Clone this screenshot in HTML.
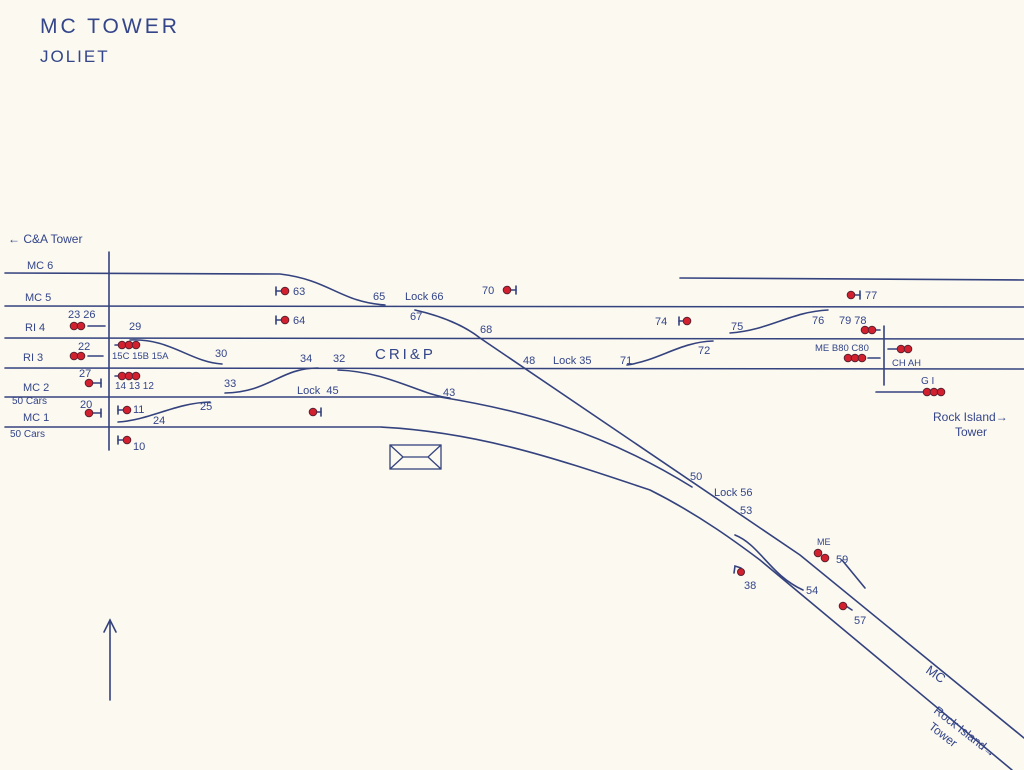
<!DOCTYPE html>
<html><head><meta charset="utf-8"><style>
html,body{margin:0;padding:0;background:#fbf9f0;}
svg{display:block}
text{font-family:"Liberation Sans",sans-serif;fill:#34458a}
</style></head><body>
<svg width="1024" height="770" viewBox="0 0 1024 770" xmlns="http://www.w3.org/2000/svg">
<rect width="1024" height="770" fill="#fbf9f0"/>
<g stroke="#34427e" stroke-width="1.6" fill="none" stroke-linecap="round">
<path d="M5 273 L280 274 C330 280 340 302 385 305"/>
<line x1="680" y1="278" x2="1024" y2="280"/>
<line x1="5" y1="306" x2="1024" y2="307"/>
<line x1="5" y1="338" x2="1024" y2="339"/>
<line x1="5" y1="368" x2="1024" y2="369"/>
<path d="M5 397 L440 397 C520 410 600 430 692 487"/>
<path d="M5 427 L380 427 C480 432 560 460 650 490 C700 515 740 545 760 560 L1012 770"/>
<path d="M415 310 C450 318 470 330 480 338 L800 555 L1024 738"/>
<path d="M130 340 C170 338 190 362 222 364"/>
<path d="M225 393 C270 392 280 368 318 368"/>
<path d="M338 370 C390 372 420 395 450 398"/>
<path d="M118 422 C150 420 175 403 210 402"/>
<path d="M627 365 C660 360 680 342 713 341"/>
<path d="M730 333 C770 330 790 312 828 310"/>
<path d="M735 535 C760 545 770 575 803 590"/>
<line x1="842" y1="560" x2="865" y2="588"/>
<line x1="109" y1="252" x2="109" y2="450"/>
<line x1="884" y1="326" x2="884" y2="385"/>
<line x1="876" y1="392" x2="930" y2="392"/>
<line x1="110" y1="700" x2="110" y2="620"/>
<path d="M104 632 L110 620 L116 632"/>
<line x1="130" y1="345" x2="115" y2="345"/><line x1="130" y1="376" x2="115" y2="376"/>
<line x1="88" y1="326" x2="105" y2="326"/><line x1="88" y1="356" x2="103" y2="356"/>
<line x1="93" y1="383" x2="101" y2="383"/><line x1="101" y1="379" x2="101" y2="387"/>
<line x1="93" y1="413" x2="101" y2="413"/><line x1="101" y1="409" x2="101" y2="417"/>
<line x1="118" y1="410" x2="126" y2="410"/><line x1="118" y1="406" x2="118" y2="414"/>
<line x1="118" y1="440" x2="126" y2="440"/><line x1="118" y1="436" x2="118" y2="444"/>
<line x1="276" y1="291" x2="284" y2="291"/><line x1="276" y1="287" x2="276" y2="295"/>
<line x1="276" y1="320" x2="284" y2="320"/><line x1="276" y1="316" x2="276" y2="324"/>
<line x1="313" y1="412" x2="321" y2="412"/><line x1="321" y1="408" x2="321" y2="416"/>
<line x1="508" y1="290" x2="516" y2="290"/><line x1="516" y1="286" x2="516" y2="294"/>
<line x1="679" y1="321" x2="686" y2="321"/><line x1="679" y1="317" x2="679" y2="325"/>
<line x1="852" y1="295" x2="860" y2="295"/><line x1="860" y1="291" x2="860" y2="299"/>
<line x1="873" y1="330" x2="880" y2="330"/><line x1="868" y1="358" x2="880" y2="358"/>
<line x1="888" y1="349" x2="898" y2="349"/>
<path d="M741 568 L735 566 L734 573"/>
<line x1="846" y1="606" x2="852" y2="610"/>
</g>
<g stroke="#34427e" stroke-width="1.3" fill="none">
<rect x="390" y="445" width="51" height="24"/>
<path d="M390 445 L403 457 L428 457 L441 445 M390 469 L403 457 M428 457 L441 469"/>
</g>
<g fill="#d3202e" stroke="#5a2030" stroke-width="1">
<circle cx="74" cy="326" r="3.8"/><circle cx="81" cy="326" r="3.8"/>
<circle cx="74" cy="356" r="3.8"/><circle cx="81" cy="356" r="3.8"/>
<circle cx="89" cy="383" r="3.8"/><circle cx="89" cy="413" r="3.8"/>
<circle cx="122" cy="345" r="3.8"/><circle cx="129" cy="345" r="3.8"/><circle cx="136" cy="345" r="3.8"/>
<circle cx="122" cy="376" r="3.8"/><circle cx="129" cy="376" r="3.8"/><circle cx="136" cy="376" r="3.8"/>
<circle cx="127" cy="410" r="3.8"/><circle cx="127" cy="440" r="3.8"/>
<circle cx="285" cy="291" r="3.8"/><circle cx="285" cy="320" r="3.8"/>
<circle cx="313" cy="412" r="3.8"/><circle cx="507" cy="290" r="3.8"/>
<circle cx="687" cy="321" r="3.8"/><circle cx="851" cy="295" r="3.8"/>
<circle cx="865" cy="330" r="3.8"/><circle cx="872" cy="330" r="3.8"/>
<circle cx="848" cy="358" r="3.8"/><circle cx="855" cy="358" r="3.8"/><circle cx="862" cy="358" r="3.8"/>
<circle cx="901" cy="349" r="3.8"/><circle cx="908" cy="349" r="3.8"/>
<circle cx="927" cy="392" r="3.8"/><circle cx="934" cy="392" r="3.8"/><circle cx="941" cy="392" r="3.8"/>
<circle cx="741" cy="572" r="3.5"/>
<circle cx="818" cy="553" r="3.8"/><circle cx="825" cy="558" r="3.8"/>
<circle cx="843" cy="606" r="3.8"/>
</g>
<g font-size="11">
<text x="40" y="33" font-size="21" letter-spacing="3">MC TOWER</text>
<text x="40" y="62" font-size="17" letter-spacing="2">JOLIET</text>
<text x="8" y="243" font-size="12">← C&amp;A Tower</text>
<text x="27" y="269">MC 6</text>
<text x="25" y="301">MC 5</text>
<text x="25" y="331">RI 4</text>
<text x="23" y="361">RI 3</text>
<text x="23" y="391">MC 2</text>
<text x="12" y="404" font-size="10">50 Cars</text>
<text x="23" y="421">MC 1</text>
<text x="10" y="437" font-size="10">50 Cars</text>
<text x="68" y="318">23 26</text>
<text x="78" y="350">22</text>
<text x="79" y="377">27</text>
<text x="80" y="408">20</text>
<text x="129" y="330">29</text>
<text x="112" y="359" font-size="9.5">15C 15B 15A</text>
<text x="115" y="389" font-size="10">14 13 12</text>
<text x="133" y="413">11</text>
<text x="153" y="424">24</text>
<text x="200" y="410">25</text>
<text x="133" y="450">10</text>
<text x="215" y="357">30</text>
<text x="224" y="387">33</text>
<text x="293" y="295">63</text>
<text x="293" y="324">64</text>
<text x="300" y="362">34</text>
<text x="333" y="362">32</text>
<text x="297" y="394">Lock&#160;&#160;45</text>
<text x="373" y="300">65</text>
<text x="405" y="300">Lock 66</text>
<text x="410" y="320">67</text>
<text x="375" y="359" font-size="15" letter-spacing="3">CRI&amp;P</text>
<text x="443" y="396">43</text>
<text x="482" y="294">70</text>
<text x="480" y="333">68</text>
<text x="523" y="364">48</text>
<text x="553" y="364">Lock 35</text>
<text x="620" y="364">71</text>
<text x="698" y="354">72</text>
<text x="655" y="325">74</text>
<text x="731" y="330">75</text>
<text x="812" y="324">76</text>
<text x="839" y="324">79 78</text>
<text x="865" y="299">77</text>
<text x="815" y="351" font-size="9.5">ME  B80 C80</text>
<text x="892" y="366" font-size="9.5">CH  AH</text>
<text x="921" y="384" font-size="10">G   I</text>
<text x="933" y="421" font-size="12">Rock Island→</text>
<text x="955" y="436" font-size="12">Tower</text>
<text x="690" y="480">50</text>
<text x="714" y="496">Lock 56</text>
<text x="740" y="514">53</text>
<text x="817" y="545" font-size="9">ME</text>
<text x="836" y="563">59</text>
<text x="744" y="589">38</text>
<text x="806" y="594">54</text>
<text x="854" y="624">57</text>
<text x="925" y="672" font-size="13" transform="rotate(35 925 672)">MC</text>
<text x="933" y="712" font-size="12" transform="rotate(38 933 712)">Rock Island→</text>
<text x="928" y="728" font-size="12" transform="rotate(38 928 728)">Tower</text>
</g>
</svg>
</body></html>
